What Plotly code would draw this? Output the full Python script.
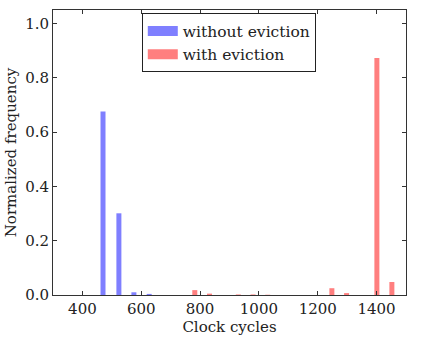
import plotly.graph_objects as go

# histogram bin centres (clock cycles) and normalized frequencies
no_evict_x = [470, 524, 575, 627]
no_evict_y = [0.676, 0.301, 0.010, 0.004]

evict_x = [782, 832, 930, 980, 1030, 1248, 1298, 1401, 1452]
evict_y = [0.018, 0.005, 0.002, 0.002, 0.001, 0.025, 0.007, 0.873, 0.048]

x_ticks = [400, 600, 800, 1000, 1200, 1400]
y_ticks = [0.0, 0.2, 0.4, 0.6, 0.8, 1.0]

BLUE = "rgba(0,0,255,0.5)"
RED = "rgba(255,0,0,0.5)"
FONT = "DejaVu Serif"

fig = go.Figure()

# the bars themselves
fig.add_trace(go.Bar(x=no_evict_x, y=no_evict_y, width=17,
                     marker=dict(color=BLUE, line=dict(width=0)),
                     showlegend=False))
fig.add_trace(go.Bar(x=evict_x, y=evict_y, width=17,
                     marker=dict(color=RED, line=dict(width=0)),
                     showlegend=False))

# legend-only entries, drawn as thick lines so the patch is a wide block
fig.add_trace(go.Scatter(x=[None], y=[None], mode="lines", name="without eviction",
                         line=dict(color=BLUE, width=11)))
fig.add_trace(go.Scatter(x=[None], y=[None], mode="lines", name="with eviction",
                         line=dict(color=RED, width=11)))

axis_style = dict(
    showline=True, linecolor="#333", linewidth=1, mirror="ticks",
    ticks="inside", ticklen=4, tickcolor="#333",
    showgrid=False, zeroline=False, automargin=False,
    tickfont=dict(family=FONT, size=15, color="#222"),
)

fig.update_xaxes(range=[300, 1500], tickvals=x_ticks,
                 title=dict(text="Clock cycles", font=dict(family=FONT, size=15, color="#222"),
                            standoff=4),
                 **axis_style)
fig.update_yaxes(range=[0, 1.05], tickvals=y_ticks, tickformat=".1f",
                 title=dict(text="Normalized frequency", font=dict(family=FONT, size=15, color="#222"),
                            standoff=4),
                 **axis_style)

fig.update_layout(
    width=423, height=338,
    margin=dict(l=53, r=17, t=10, b=43),
    plot_bgcolor="white", paper_bgcolor="white",
    barmode="overlay",
    font=dict(family=FONT, size=15, color="#222"),
    legend=dict(x=0.498, y=0.988, xanchor="center", yanchor="top",
                bgcolor="white", bordercolor="#222", borderwidth=1,
                font=dict(family=FONT, size=15.5, color="#222"),
                itemwidth=30, tracegroupgap=0),
)

fig.write_html("out.html", config={"displayModeBar": False},
               post_script="document.body.style.margin='0px';")
